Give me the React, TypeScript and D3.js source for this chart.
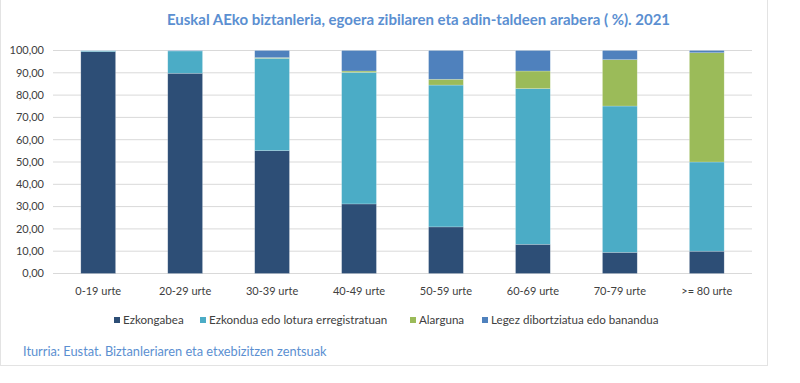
import React from "react";
import * as d3 from "d3";

const categories = ["0-19 urte", "20-29 urte", "30-39 urte", "40-49 urte", "50-59 urte", "60-69 urte", "70-79 urte", ">= 80 urte"];
const seriesNames = ["Ezkongabea", "Ezkondua edo lotura erregistratuan", "Alarguna", "Legez dibortziatua edo banandua"];
const ezkongabea = [99.5, 89.8, 55.1, 31.2, 20.9, 13.1, 9.5, 10.0];
const ezkondua = [0.4, 10.0, 41.4, 59.0, 63.6, 69.8, 65.6, 40.0];
const alarguna = [0.0, 0.0, 0.3, 0.6, 2.6, 7.9, 20.8, 49.0];
const dibortziatua = [0.1, 0.2, 3.2, 9.2, 12.9, 9.2, 4.1, 1.0];
const yTicks = [0, 10, 20, 30, 40, 50, 60, 70, 80, 90, 100];
const colors = ["#2D4E76", "#4BACC6", "#9BBB59", "#4F81BD"];
const title = "Euskal AEko biztanleria, egoera zibilaren eta adin-taldeen arabera ( %). 2021";
const source = "Iturria: Eustat. Biztanleriaren eta etxebizitzen zentsuak";

const W = 800, H = 383;
const left = 53, right = 752, top = 50.5, bottom = 273.5;
const font = "Lato, 'Open Sans', sans-serif";

export default function App() {
  const x = d3.scaleBand<string>().domain(categories).range([left, right]).paddingInner(0.6).paddingOuter(0.32);
  const y = d3.scaleLinear().domain([0, 100]).range([bottom, top]);
  const rows = categories.map((c, i) => ({ cat: c, s0: ezkongabea[i], s1: ezkondua[i], s2: alarguna[i], s3: dibortziatua[i] }));
  const stack = d3.stack<any>().keys(["s0", "s1", "s2", "s3"])(rows);
  const fmt = (v: number) => d3.format(".2f")(v).replace(".", ",");

  const legendItems = [
    { name: seriesNames[0], x: 114 },
    { name: seriesNames[1], x: 200 },
    { name: seriesNames[2], x: 410 },
    { name: seriesNames[3], x: 482 },
  ];

  return (
    <div style={{ position: "absolute", left: 0, top: 0 }}>
      <svg width={W} height={H} style={{ display: "block", background: "#fff" }}>
        <rect x={0.5} y={-1} width={767} height={366.5} fill="#fff" stroke="#E3E3E3" />
        <text x={418.5} y={24.5} textAnchor="middle" fontFamily={font} fontWeight="bold" fontSize={15} fill="#5B8FD1">{title}</text>
        {yTicks.map(t => (
          <g key={t}>
            <line x1={left} x2={right} y1={y(t)} y2={y(t)} stroke="#D9D9D9" strokeWidth={1} />
            <text x={44} y={y(t)} dy="0.35em" textAnchor="end" fontFamily={font} fontSize={11} fill="#404040">{fmt(t)}</text>
          </g>
        ))}
        {stack.map((layer, li) => (
          <g key={li}>
            {layer.map((d, i) => (
              <rect key={i} x={x(categories[i])!} y={y(d[1])} width={x.bandwidth()} height={Math.max(0, y(d[0]) - y(d[1]))}
                fill={colors[li]} stroke={d[1] - d[0] > 0 ? "rgba(255,255,255,0.35)" : "none"} strokeWidth={0.6} />
            ))}
          </g>
        ))}
        {categories.map(c => (
          <text key={c} x={x(c)! + x.bandwidth() / 2} y={295} textAnchor="middle" fontFamily={font} fontSize={11} fill="#404040">{c}</text>
        ))}
        {legendItems.map((it, i) => (
          <g key={i}>
            <rect x={it.x} y={317} width={6} height={6} fill={colors[i]} />
            <text x={it.x + 9} y={324} fontFamily={font} fontSize={11.6} fill="#404040">{it.name}</text>
          </g>
        ))}
        <text x={23} y={356} fontFamily={font} fontSize={12.8} fill="#5B8FD1">{source}</text>
      </svg>
    </div>
  );
}
